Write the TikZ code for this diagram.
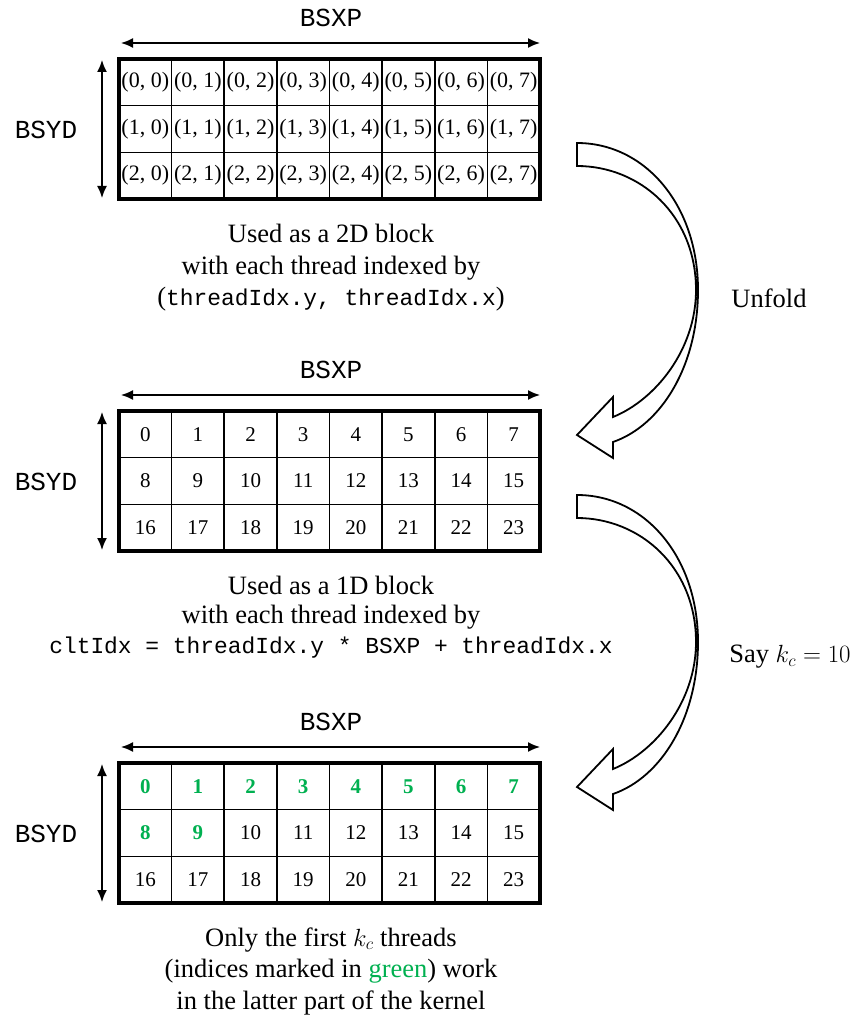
\documentclass[tikz,border=0pt]{standalone}
\usepackage{fontspec}
\setmainfont{Liberation Serif}
\setmonofont{Liberation Mono}
\usetikzlibrary{arrows.meta}
\definecolor{kgreen}{RGB}{0,176,80}
\begin{document}
\begin{tikzpicture}[x=1pt,y=-1pt,
  gridbox/.style={draw,line width=3.5pt,minimum width=421pt,minimum height=140pt,inner sep=0pt},
  gridline/.style={line width=1.6pt},
  cell/.style={inner sep=0pt,font=\fontsize{21}{24}\selectfont},
  pcell/.style={inner sep=0pt,font=\fontsize{22}{24}\selectfont},
  gcell/.style={cell,text=kgreen,font=\fontsize{21}{24}\selectfont\bfseries},
  dimarrow/.style={line width=1.6pt,{Latex[length=12pt,width=10pt]}-{Latex[length=12pt,width=10pt]}},
  dimlabel/.style={font=\fontsize{26}{30}\selectfont\ttfamily},
  caption/.style={align=center,font=\fontsize{26.5}{31.5}\selectfont},
  codefont/.style={font=\fontsize{22.9}{26}\selectfont\ttfamily},
  bigarrow/.style={draw,fill=white,line width=1.8pt,line join=miter},
  sidelabel/.style={font=\fontsize{26.5}{31}\selectfont}]
\useasboundingbox (0,0) rectangle (863,1019);

% ---------- three grids ----------
\foreach \g/\T in {1/59,2/411,3/763}{
  \node[gridbox] (g\g) at (329.5,{\T+70}) {};
  \foreach \c in {1,...,7}
    \draw[gridline] ({119+52.625*\c},\T) -- ({119+52.625*\c},{\T+140});
  \foreach \r in {1,2}
    \draw[gridline] (119,{\T+46.667*\r}) -- (540,{\T+46.667*\r});
  \node[gridbox] at (329.5,{\T+70}) {};
  % dimension arrows
  \coordinate (h\g a) at (121,{\T-16});
  \coordinate (h\g b) at (540,{\T-16});
  \draw[dimarrow] (h\g a) -- (h\g b);
  \node[dimlabel] (bsxp\g) at (331,{\T-41}) {BSXP};
  \coordinate (v\g a) at (102,{\T+1});
  \coordinate (v\g b) at (102,{\T+139});
  \draw[dimarrow] (v\g a) -- (v\g b);
  \node[dimlabel] (bsyd\g) at (46,{\T+71}) {BSYD};
}

% ---------- cell labels ----------
\foreach \r in {0,1,2}{
  \foreach \c in {0,...,7}{
    \pgfmathtruncatemacro\n{\r*8+\c}
    \node[pcell] (a-\r-\c) at ({119+52.625*(\c+0.5)},{59+46.667*(\r+0.5)}) {(\r, \c)};
    \node[cell] (b-\r-\c) at ({119+52.625*(\c+0.5)},{411+46.667*(\r+0.5)}) {\n};
    \ifnum\n<10
      \node[gcell] (c-\r-\c) at ({119+52.625*(\c+0.5)},{763+46.667*(\r+0.5)}) {\n};
    \else
      \node[cell] (c-\r-\c) at ({119+52.625*(\c+0.5)},{763+46.667*(\r+0.5)}) {\n};
    \fi
  }
}

% ---------- captions ----------
\node[caption] (cap1) at (331,268) {Used as a 2D block\\with each thread indexed by\\({\ttfamily\fontsize{22.9}{26}\selectfont threadIdx.y, threadIdx.x})};
\node[caption] (cap2a) at (331,585) {Used as a 1D block};
\node[caption] (cap2b) at (331,617) {with each thread indexed by};
\node[codefont] (cap2c) at (331,648) {cltIdx = threadIdx.y * BSXP + threadIdx.x};
\node[caption] (cap3) at (331,971) {Only the first $k_c$ threads\\(indices marked in \textcolor{kgreen}{green}) work\\in the latter part of the kernel};

% ---------- curved block arrows ----------
\foreach \dy in {0,352}{
  \begin{scope}[yshift={-\dy pt}]
    \draw[bigarrow] (577,143) .. controls (645,143) and (698,205) .. (698,290)
      .. controls (698,365) and (662,425) .. (613,442)
      -- (613,458) -- (577,435) -- (613,397) -- (613,417)
      .. controls (655,400) and (696,350) .. (696,290)
      .. controls (696,215) and (640,166) .. (577,166) -- cycle;
  \end{scope}
}
\node[sidelabel] (unfold) at (769,298) {Unfold};
\node[sidelabel] (sayk) at (790,657) {Say $k_c = 10$};
\end{tikzpicture}
\end{document}
